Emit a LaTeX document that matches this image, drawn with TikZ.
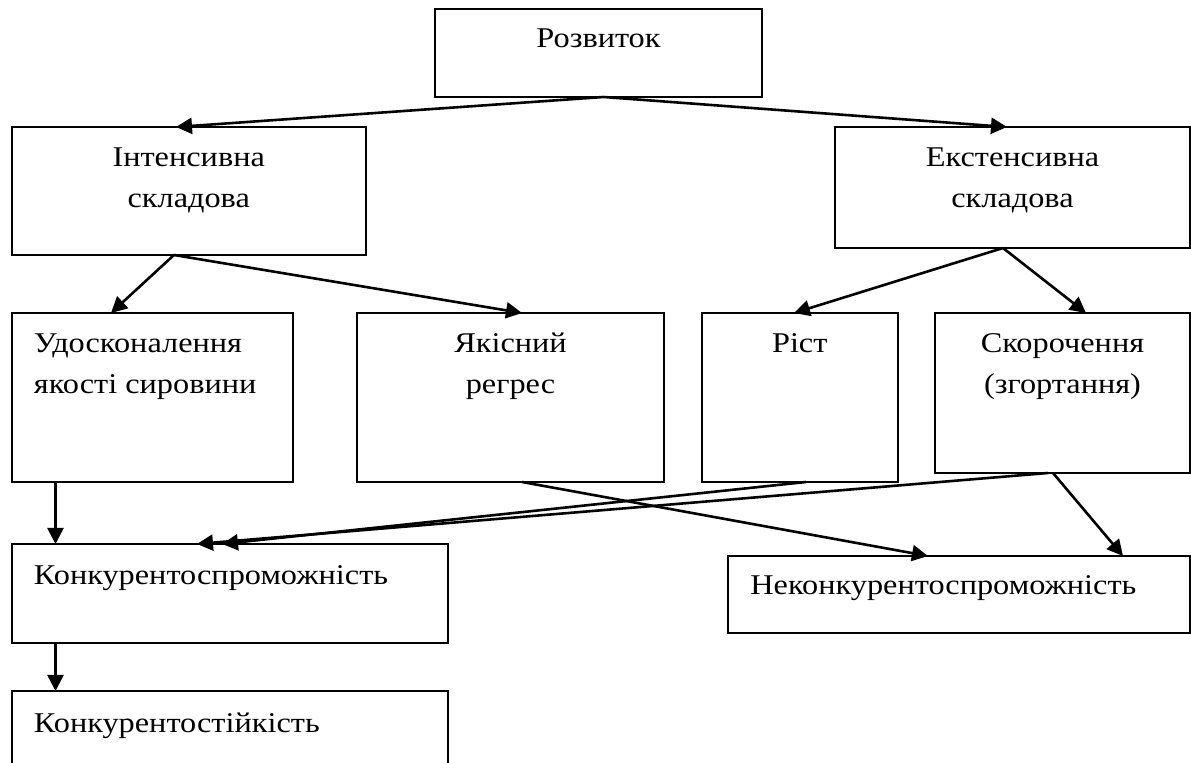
\documentclass[tikz,border=0pt]{standalone}
\usepackage{fontspec}
\setmainfont{Liberation Serif}[FakeStretch=1.13]
\usetikzlibrary{arrows.meta,calc}
\begin{document}
\begin{tikzpicture}[x=0.5pt,y=-0.5pt,
  box/.style={draw, line width=1pt, rectangle, inner sep=0pt, outer sep=0pt, anchor=north west},
  lbl/.style={inner sep=0pt, anchor=base, font=\fontsize{14.3pt}{20.5pt}\selectfont},
  lbll/.style={lbl, anchor=base west},
  conn/.style={line width=1.3pt, -{Triangle[length=8pt,width=8pt]}}]
\useasboundingbox (0,0) rectangle (1191,763);
\clip (0,0) rectangle (1191,763);

% boxes
\node[box, minimum width=163.5pt, minimum height=44pt]   (rozv)   at (435,9)     {};
\node[box, minimum width=177.25pt, minimum height=64pt]  (inten)  at (11.5,127)  {};
\node[box, minimum width=177.5pt, minimum height=60.5pt] (ekst)   at (835,127)   {};
\node[box, minimum width=140.75pt, minimum height=84.5pt](udosk)  at (11.5,313)  {};
\node[box, minimum width=153.5pt, minimum height=84.5pt] (yakis)  at (357,313)   {};
\node[box, minimum width=98.25pt, minimum height=84.5pt] (rist)   at (701.5,313) {};
\node[box, minimum width=127.5pt, minimum height=80pt]   (skor)   at (935,313)   {};
\node[box, minimum width=218.25pt, minimum height=49.5pt](konk)   at (11.5,544)  {};
\node[box, minimum width=231pt, minimum height=38.5pt]   (nekonk) at (728,556)   {};
\node[box, minimum width=218.25pt, minimum height=50pt]  (stiik)  at (11.5,691)  {};

% labels
\node[lbl] (trozv) at ($(rozv.north)+(0,39)$) {Розвиток};
\node[lbl] (tinten) at ($(inten.north)+(0,40)$) {\begin{tabular}[t]{@{}c@{}}Інтенсивна\\складова\end{tabular}};
\node[lbl] (tekst) at ($(ekst.north)+(0,40)$) {\begin{tabular}[t]{@{}c@{}}Екстенсивна\\складова\end{tabular}};
\node[lbll] (tudosk) at ($(udosk.north west)+(22,40)$) {\begin{tabular}[t]{@{}l@{}}Удосконалення\\якості сировини\end{tabular}};
\node[lbl] (tyakis) at ($(yakis.north)+(0,40)$) {\begin{tabular}[t]{@{}c@{}}Якісний\\регрес\end{tabular}};
\node[lbl] (trist) at ($(rist.north)+(0,40)$) {Ріст};
\node[lbl] (tskor) at ($(skor.north)+(0,40)$) {\begin{tabular}[t]{@{}c@{}}Скорочення\\(згортання)\end{tabular}};
\node[lbll] (tkonk) at ($(konk.north west)+(22,41)$) {Конкурентоспроможність};
\node[lbll] (tnekonk) at ($(nekonk.north west)+(22,39)$) {Неконкурентоспроможність};
\node[lbll] (tstiik) at ($(stiik.north west)+(22,42)$) {Конкурентостійкість};

% connectors
\draw[conn] ($(rozv.south west)+(168.5,0)$) -- ($(inten.north west)+(164.5,0)$);
\draw[conn] ($(rozv.south west)+(168.5,0)$) -- ($(ekst.north west)+(172,0)$);
\draw[conn] ($(inten.south west)+(162.5,0)$) -- ($(udosk.north west)+(99.5,0)$);
\draw[conn] ($(inten.south west)+(162.5,0)$) -- ($(yakis.north west)+(165,0)$);
\draw[conn] ($(ekst.south west)+(168,0)$) -- ($(rist.north west)+(92.5,0)$);
\draw[conn] ($(ekst.south west)+(168,0)$) -- ($(skor.north west)+(151,0)$);
\draw[conn] ($(udosk.south west)+(44,0)$) -- ($(konk.north west)+(44,0)$);
\draw[conn] ($(rist.south west)+(104.5,0)$) -- ($(konk.north west)+(210.5,0)$);
\draw[conn] ($(skor.south west)+(113,0)$) -- ($(konk.north west)+(185.5,0)$);
\draw[conn] ($(yakis.south west)+(165,0)$) -- ($(nekonk.north west)+(200,0)$);
\draw[conn] ($(skor.south west)+(118,0)$) -- ($(nekonk.north west)+(395,0)$);
\draw[conn] ($(konk.south west)+(44,0)$) -- ($(stiik.north west)+(44,0)$);
\end{tikzpicture}
\end{document}
